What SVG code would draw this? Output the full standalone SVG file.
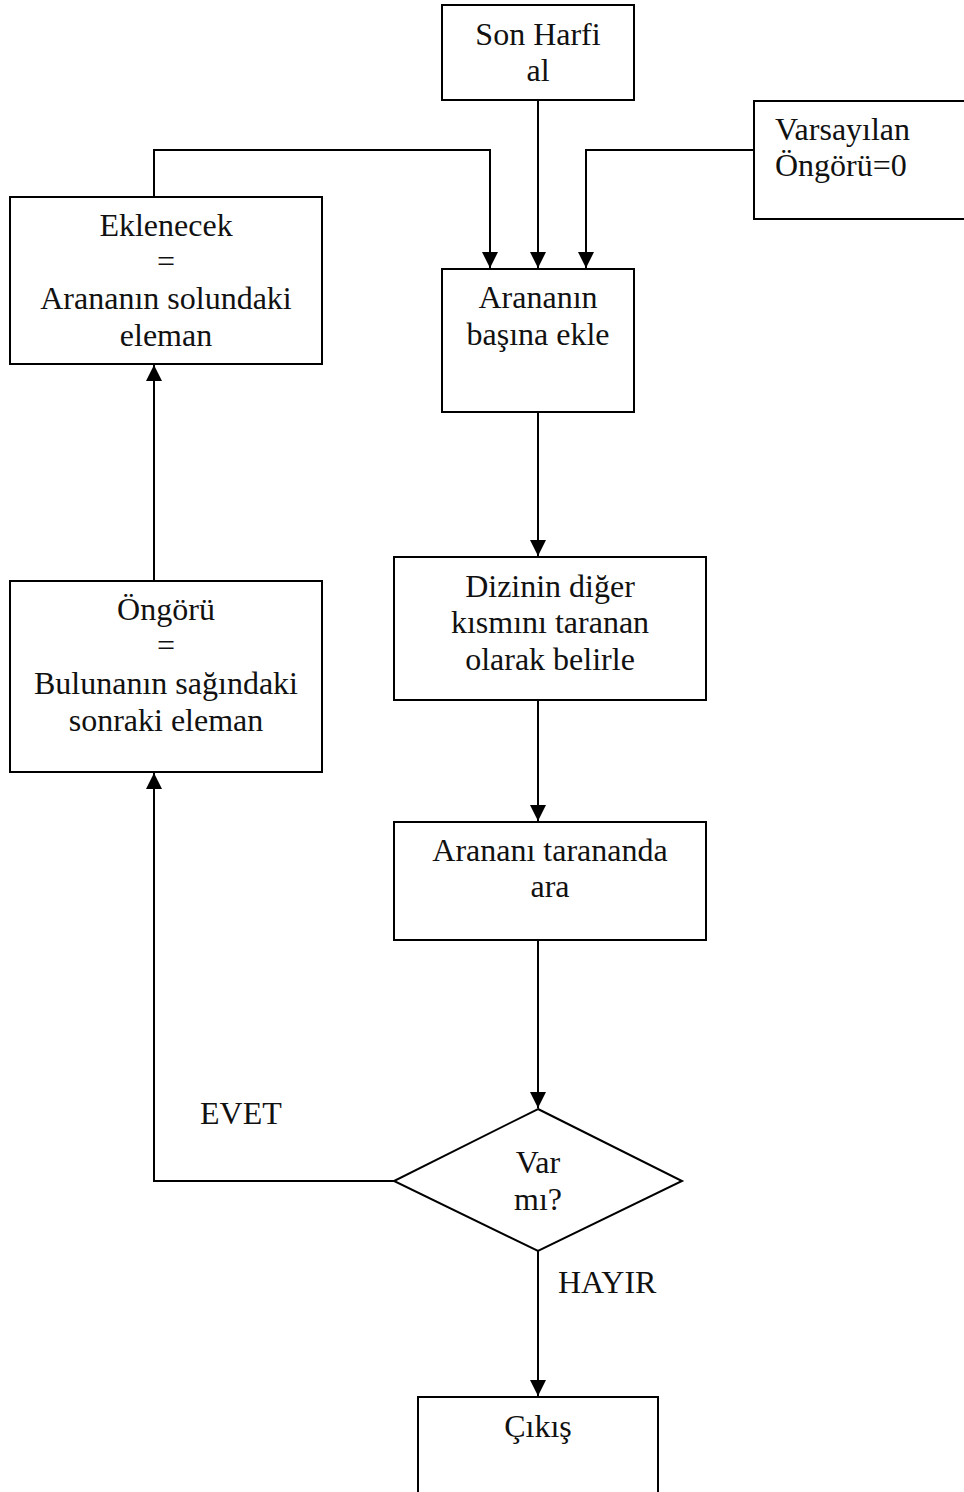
<svg xmlns="http://www.w3.org/2000/svg" width="964" height="1492" viewBox="0 0 964 1492">
<style>
.box{fill:#fff;stroke:#000;stroke-width:2}
.t{font-family:"Liberation Serif","Times New Roman",serif;font-size:32px;fill:#111;text-anchor:middle}
.l{text-anchor:start}
.c{fill:none;stroke:#000;stroke-width:2}
</style>
<defs>
<marker id="a" viewBox="0 0 16 16" refX="16" refY="8" markerWidth="16" markerHeight="16" markerUnits="userSpaceOnUse" orient="auto">
<path d="M0,0 L16,8 L0,16 Z" fill="#000"/>
</marker>
</defs>
<rect width="964" height="1492" fill="#fff"/>
<g id="connectors">
<path class="c" d="M538,100 V268" marker-end="url(#a)"/>
<path class="c" d="M154,197 V150 H490 V268" marker-end="url(#a)"/>
<path class="c" d="M754,150 H586 V268" marker-end="url(#a)"/>
<path class="c" d="M538,412 V556" marker-end="url(#a)"/>
<path class="c" d="M538,700 V821" marker-end="url(#a)"/>
<path class="c" d="M538,940 V1108" marker-end="url(#a)"/>
<path class="c" d="M394,1181 H154 V773" marker-end="url(#a)"/>
<path class="c" d="M154,581 V365" marker-end="url(#a)"/>
<path class="c" d="M538,1251 V1396" marker-end="url(#a)"/>
</g>
<g id="son-harfi">
<rect class="box" x="442" y="5" width="192" height="95"/>
<text class="t" x="538" y="45">Son Harfi</text>
<text class="t" x="538" y="81">al</text>
</g>
<g id="varsayilan">
<rect class="box" x="754" y="101" width="214" height="118"/>
<text class="t l" x="775" y="140">Varsayılan</text>
<text class="t l" x="775" y="176">Öngörü=0</text>
</g>
<g id="eklenecek">
<rect class="box" x="10" y="197" width="312" height="167"/>
<text class="t" x="166" y="236">Eklenecek</text>
<text class="t" x="166" y="272">=</text>
<text class="t" x="166" y="309">Arananın solundaki</text>
<text class="t" x="166" y="346">eleman</text>
</g>
<g id="basina-ekle">
<rect class="box" x="442" y="269" width="192" height="143"/>
<text class="t" x="538" y="308">Arananın</text>
<text class="t" x="538" y="345">başına ekle</text>
</g>
<g id="dizinin">
<rect class="box" x="394" y="557" width="312" height="143"/>
<text class="t" x="550" y="597">Dizinin diğer</text>
<text class="t" x="550" y="633">kısmını taranan</text>
<text class="t" x="550" y="670">olarak belirle</text>
</g>
<g id="ara">
<rect class="box" x="394" y="822" width="312" height="118"/>
<text class="t" x="550" y="861">Arananı tarananda</text>
<text class="t" x="550" y="897">ara</text>
</g>
<g id="ongoru">
<rect class="box" x="10" y="581" width="312" height="191"/>
<text class="t" x="166" y="620">Öngörü</text>
<text class="t" x="166" y="656">=</text>
<text class="t" x="166" y="694">Bulunanın sağındaki</text>
<text class="t" x="166" y="731">sonraki eleman</text>
</g>
<g id="var-mi">
<polygon class="box" points="538,1109 682,1181 538,1251 394,1181"/>
<text class="t" x="538" y="1173">Var</text>
<text class="t" x="538" y="1210">mı?</text>
</g>
<g id="labels">
<text class="t l" x="200" y="1124">EVET</text>
<text class="t l" x="558" y="1293">HAYIR</text>
</g>
<g id="cikis">
<rect class="box" x="418" y="1397" width="240" height="100"/>
<text class="t" x="538" y="1437">Çıkış</text>
</g>
</svg>
